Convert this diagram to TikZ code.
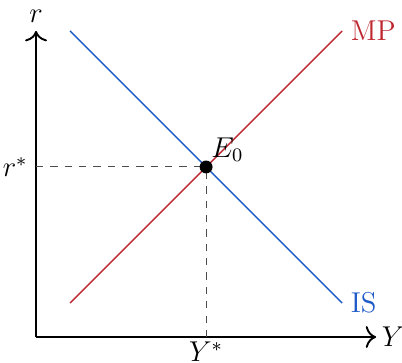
\documentclass[tikz,border=0pt]{standalone}
\usepackage{tikz}
\usetikzlibrary{arrows.meta}
\definecolor{mpred}{RGB}{190,38,48}
\definecolor{isblue}{RGB}{30,90,200}
\begin{document}
\begin{tikzpicture}[x=0.5cm,y=0.5cm,every node/.style={font=\large}]
        \useasboundingbox (-1.06,-0.735) rectangle (10.76,9.91);
        \coordinate (O) at (0,0);
        \coordinate (E) at (5,5);
        \draw[thick,-{To[scale=1.3]}] (O) -- (10,0) node[right, inner sep=2pt] (Yax) {$Y$};
        \draw[thick,-{To[scale=1.3]}] (O) -- (0,9) node[above] (rax) {$r$};
        \draw[dashed, black!70] (0,5) node[left, black] (rstar) {$r^*$} -- (E);
        \draw[dashed, black!70] (5,0) node[below, black, inner sep=2pt] (Ystar) {$Y^*$} -- (E);
        \draw[semithick, isblue] (1,9) -- (9,1) node[right] (IS) {IS};
        \draw[semithick, mpred] (1,1) -- (9,9) node[right] (MP) {MP};
        \fill (E) circle (2.7pt);
        \node[above right, inner sep=2pt] (E0) at (E) {$E_0$};
    \end{tikzpicture}
\end{document}
